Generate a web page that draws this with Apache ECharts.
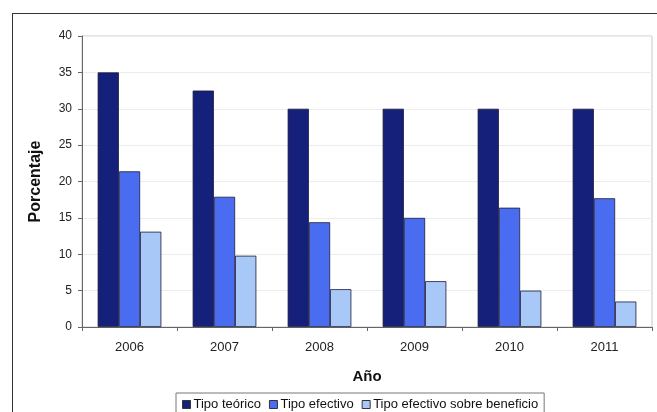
<!DOCTYPE html>
<html>
<head>
<meta charset="utf-8">
<script src="https://cdn.jsdelivr.net/npm/echarts@6/dist/echarts.min.js"></script>
<style>
  html, body { margin: 0; padding: 0; background: #fff; }
  #frame { position: absolute; left: 12px; top: 13px; width: 660px; height: 420px; border: 1px solid #333; box-sizing: border-box; }
  #chart { position: absolute; left: 0; top: 0; width: 657px; height: 412px; }
</style>
</head>
<body>
<div id="frame"></div>
<div id="chart"></div>
<script>
// Tipos impositivos por año (%)
const years = ['2006', '2007', '2008', '2009', '2010', '2011'];
const tipoTeorico = [35, 32.5, 30, 30, 30, 30];
const tipoEfectivo = [21.4, 17.9, 14.4, 15.0, 16.4, 17.7];
const tipoSobreBeneficio = [13.1, 9.8, 5.2, 6.3, 5.0, 3.5];
const yTicks = [0, 5, 10, 15, 20, 25, 30, 35, 40];

const chart = echarts.init(document.getElementById('chart'));
const font = 'Liberation Sans, Arial, sans-serif';
const barBorder = { borderColor: '#1c1c3a', borderWidth: 0.8 };
const legendIcon = { borderColor: '#333', borderWidth: 1 };

chart.setOption({
  animation: false,
  textStyle: { fontFamily: font },
  grid: { left: 82, right: 5, top: 36, bottom: 85, show: true, borderColor: '#c8c8c8', borderWidth: 1, backgroundColor: '#fff' },
  legend: {
    top: 393, left: 176,
    icon: 'rect', itemWidth: 8, itemHeight: 8, itemGap: 8,
    borderColor: '#777', borderWidth: 1, padding: [5, 6, 10, 6],
    textStyle: { fontSize: 13, color: '#111', fontFamily: font, padding: [0, 0, 0, -2] },
    data: [
      { name: 'Tipo teórico', itemStyle: legendIcon },
      { name: 'Tipo efectivo', itemStyle: legendIcon },
      { name: 'Tipo efectivo sobre beneficio', itemStyle: legendIcon }
    ]
  },
  xAxis: {
    type: 'category', data: years,
    name: 'Año', nameLocation: 'middle', nameGap: 42,
    nameTextStyle: { fontSize: 15, fontWeight: 'bold', color: '#111', fontFamily: font },
    axisLine: { lineStyle: { color: '#666' } },
    axisTick: { show: true, length: 4, lineStyle: { color: '#666' } },
    axisLabel: { fontSize: 13, color: '#222', margin: 14 }
  },
  yAxis: {
    type: 'value', min: 0, max: 40, interval: 5,
    name: 'Porcentaje', nameLocation: 'middle', nameGap: 38,
    nameTextStyle: { fontSize: 16, fontWeight: 'bold', color: '#111', fontFamily: font },
    axisLine: { show: true, lineStyle: { color: '#666' } },
    axisTick: { show: true, length: 4, lineStyle: { color: '#666' } },
    axisLabel: { fontSize: 12, color: '#222', margin: 10,
      formatter: v => yTicks.includes(v) ? String(v) : '' },
    splitLine: { lineStyle: { color: '#ececec' } }
  },
  series: [
    { name: 'Tipo teórico', type: 'bar', data: tipoTeorico, barGap: '0%', barCategoryGap: '33%',
      itemStyle: Object.assign({ color: '#15207a' }, barBorder) },
    { name: 'Tipo efectivo', type: 'bar', data: tipoEfectivo,
      itemStyle: Object.assign({ color: '#4a6cf0' }, barBorder) },
    { name: 'Tipo efectivo sobre beneficio', type: 'bar', data: tipoSobreBeneficio,
      itemStyle: Object.assign({ color: '#a8c8f8' }, barBorder) }
  ]
});
</script>
</body>
</html>
